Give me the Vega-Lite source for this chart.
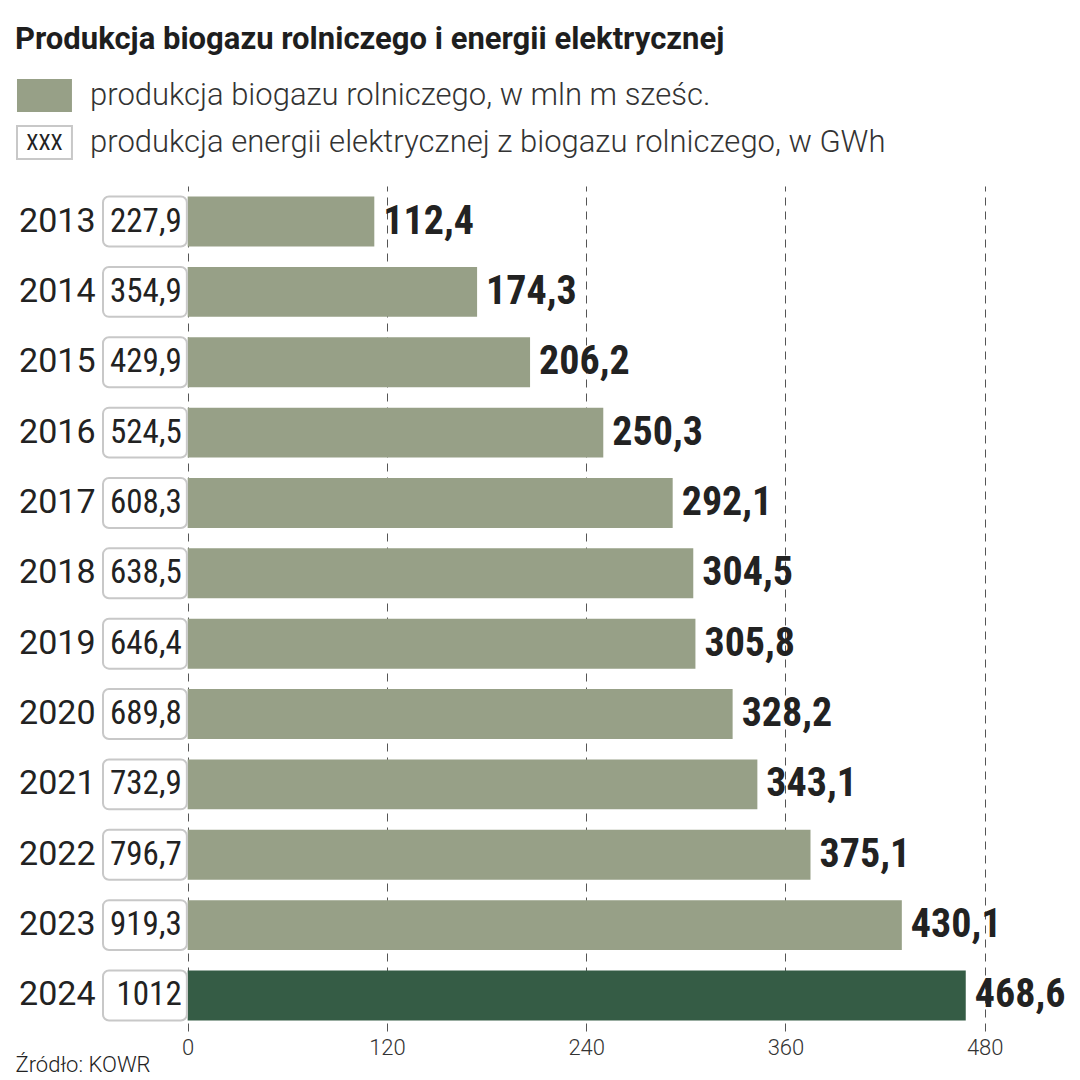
{
  "$schema": "https://vega.github.io/schema/vega-lite/v6.json",
  "padding": {"left": 15, "top": 24, "right": 4, "bottom": 0},
  "background": "white",
  "config": {
    "locale": {"number": {"decimal": ",", "thousands": "", "grouping": [3], "currency": ["", ""]}},
    "view": {"stroke": null}
  },
  "title": {"text": "Produkcja biogazu rolniczego i energii elektrycznej", "anchor": "start", "font": "Roboto", "fontSize": 31, "fontWeight": "bold", "color": "#1e1e1e", "offset": 16},
  "spacing": 20,
  "datasets": {
    "legend": [
      {"item": "produkcja biogazu rolniczego, w mln m sześc.", "kind": "bar", "sample": ""},
      {"item": "produkcja energii elektrycznej z biogazu rolniczego, w GWh", "kind": "box", "sample": "XXX"}
    ],
    "main": [
      {"year": 2013, "energy": 227.9, "biogas": 112.4},
      {"year": 2014, "energy": 354.9, "biogas": 174.3},
      {"year": 2015, "energy": 429.9, "biogas": 206.2},
      {"year": 2016, "energy": 524.5, "biogas": 250.3},
      {"year": 2017, "energy": 608.3, "biogas": 292.1},
      {"year": 2018, "energy": 638.5, "biogas": 304.5},
      {"year": 2019, "energy": 646.4, "biogas": 305.8},
      {"year": 2020, "energy": 689.8, "biogas": 328.2},
      {"year": 2021, "energy": 732.9, "biogas": 343.1},
      {"year": 2022, "energy": 796.7, "biogas": 375.1},
      {"year": 2023, "energy": 919.3, "biogas": 430.1},
      {"year": 2024, "energy": 1012, "biogas": 468.6}
    ]
  },
  "vconcat": [
    {
      "width": 973,
      "height": 94,
      "data": {"name": "legend"},
      "encoding": {
        "y": {"field": "item", "type": "nominal", "sort": null, "scale": {"paddingInner": 0.3, "paddingOuter": 0.15}, "axis": null}
      },
      "layer": [
        {
          "transform": [{"filter": "datum.kind === 'bar'"}],
          "mark": {"type": "rect", "color": "#97a087"},
          "encoding": {
            "x": {"datum": -102.8, "type": "quantitative", "scale": {"domain": [-51, 535], "nice": false, "zero": false}, "axis": null},
            "x2": {"datum": -69.7}
          }
        },
        {
          "transform": [{"filter": "datum.kind === 'box'"}],
          "mark": {"type": "rect", "fill": "white", "stroke": "#c8c8c8", "strokeWidth": 2},
          "encoding": {
            "x": {"datum": -102.8, "type": "quantitative"},
            "x2": {"datum": -69.7}
          }
        },
        {
          "transform": [{"filter": "datum.kind === 'box'"}],
          "mark": {"type": "text", "align": "center", "baseline": "middle", "font": "'Roboto Condensed', 'DejaVu Sans Condensed', 'DejaVu Sans', sans-serif", "fontSize": 22, "color": "#222"},
          "encoding": {
            "x": {"datum": -86.2, "type": "quantitative"},
            "text": {"field": "sample"}
          }
        },
        {
          "mark": {"type": "text", "align": "left", "baseline": "middle", "font": "Roboto", "fontWeight": 300, "fontSize": 31, "color": "#333"},
          "encoding": {
            "x": {"datum": -58.8, "type": "quantitative"},
            "text": {"field": "item"}
          }
        }
      ]
    },
    {
      "width": 973,
      "height": 845,
      "data": {"name": "main"},
      "encoding": {
        "y": {"field": "year", "type": "ordinal", "sort": null, "scale": {"paddingInner": 0.29, "paddingOuter": 0.15},
          "axis": {"title": null, "ticks": false, "domain": false, "labelPadding": 8, "labelFont": "Roboto", "labelFontSize": 34, "labelColor": "#222"}}
      },
      "layer": [
        {
          "mark": {"type": "bar"},
          "encoding": {
            "x": {"field": "biogas", "type": "quantitative", "scale": {"domain": [-51, 535], "nice": false, "zero": false},
              "axis": {"values": [0, 120, 240, 360, 480], "grid": true, "gridDash": [8, 6], "gridColor": "#555", "gridWidth": 1, "ticks": false, "domain": false,
                "labelFont": "Roboto", "labelFontWeight": 300, "labelFontSize": 22, "labelColor": "#333", "labelPadding": 6,
                "title": "Źródło: KOWR", "titleFont": "Roboto", "titleFontWeight": 300, "titleFontSize": 22, "titleColor": "#222",
                "titleAnchor": "start", "titleAlign": "left", "titleX": -88, "titleY": 40, "titleBaseline": "alphabetic"}},
            "x2": {"datum": 0},
            "color": {"condition": {"test": "datum.year === 2024", "value": "#355c45"}, "value": "#97a087"}
          }
        },
        {
          "mark": {"type": "rect", "fill": "white", "stroke": "#c8c8c8", "strokeWidth": 2, "cornerRadius": 6},
          "encoding": {
            "x": {"datum": -51, "type": "quantitative"},
            "x2": {"datum": -0.5}
          }
        },
        {
          "mark": {"type": "text", "align": "right", "baseline": "middle", "dx": -6, "font": "'Roboto Condensed', 'DejaVu Sans Condensed', 'DejaVu Sans', sans-serif", "fontSize": 33, "color": "#222"},
          "encoding": {
            "x": {"datum": 0, "type": "quantitative"},
            "text": {"field": "energy", "type": "quantitative", "format": ".1~f"}
          }
        },
        {
          "mark": {"type": "text", "align": "left", "baseline": "middle", "dx": 9, "font": "'Roboto Condensed', 'DejaVu Sans Condensed', 'DejaVu Sans', sans-serif", "fontWeight": "bold", "fontSize": 40, "color": "#222"},
          "encoding": {
            "x": {"field": "biogas", "type": "quantitative"},
            "text": {"field": "biogas", "type": "quantitative", "format": ".1~f"}
          }
        }
      ]
    }
  ]
}
